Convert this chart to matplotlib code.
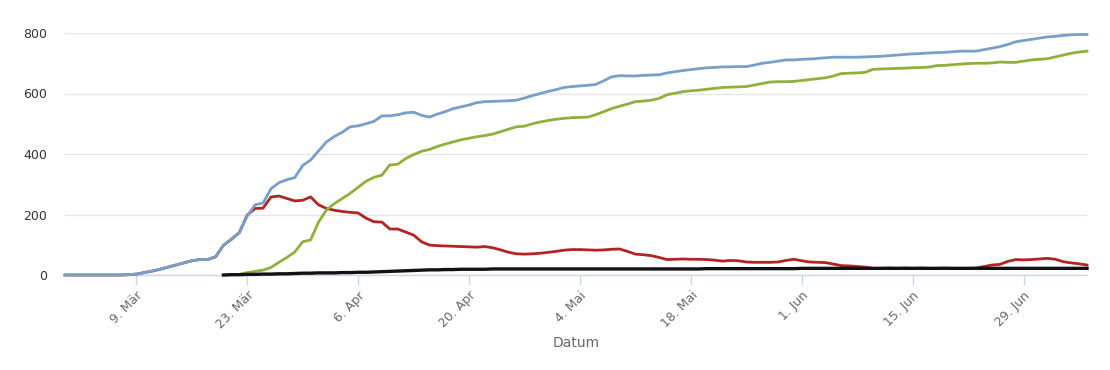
import numpy as np
import pandas as pd
import matplotlib
matplotlib.use('Agg')
import matplotlib.pyplot as plt

# Tageswerte ab 29. Feb 2020
dates = pd.date_range('2020-02-29', periods=130, freq='D')

# Infizierte gesamt (blau)
total = [0, 0, 0, 0, 0, 0, 0, 0, 1, 3,
         8, 13, 19, 26, 33, 40, 47, 51, 51, 60,
         98, 118, 140, 195, 232, 238, 285, 305, 315, 322,
         362, 380, 410, 440, 458, 472, 490, 493, 500, 508,
         526, 526, 530, 536, 538, 528, 522, 532, 540, 550,
         556, 562, 570, 573, 574, 575, 576, 578, 585, 593,
         600, 607, 613, 620, 623, 625, 627, 630, 642, 655,
         659, 658, 658, 660, 661, 662, 668, 672, 676, 679,
         682, 685, 686, 688, 688, 689, 689, 694, 700, 703,
         707, 711, 711, 713, 714, 716, 718, 720, 720, 720,
         720, 721, 722, 723, 725, 727, 729, 731, 732, 734,
         735, 736, 738, 740, 740, 740, 745, 750, 755, 762,
         771, 775, 779, 783, 787, 789, 792, 794, 795, 795]

# Genesene (grün), erst ab 22. Tag
recovered = [None] * 22 + [
    2, 8, 12, 16, 25, 42, 58, 76,
    110, 116, 175, 215, 236, 253, 270, 290, 310, 323,
    330, 364, 366, 385, 398, 409, 415, 425, 433, 440,
    447, 452, 457, 461, 466, 474, 482, 490, 492, 500,
    506, 511, 515, 518, 520, 521, 522, 530, 540, 550,
    558, 565, 573, 575, 578, 584, 596, 601, 606, 609,
    611, 614, 617, 620, 621, 622, 623, 628, 633, 638,
    639, 639, 640, 643, 646, 649, 652, 658, 666, 667,
    668, 670, 680, 681, 682, 683, 684, 685, 686, 687,
    692, 693, 695, 697, 699, 700, 700, 701, 704, 703,
    703, 707, 711, 713, 715, 721, 727, 733, 737, 740]

# Aktuell Erkrankte (rot)
active = [0, 0, 0, 0, 0, 0, 0, 0, 1, 3,
          8, 13, 19, 26, 33, 40, 47, 51, 51, 60,
          98, 118, 140, 198, 220, 221, 258, 261, 253, 245,
          247, 258, 232, 220, 214, 210, 207, 205, 188, 176,
          175, 152, 152, 142, 132, 110, 99, 97, 96, 95,
          94, 93, 92, 94, 90, 83, 75, 70, 69, 70,
          72, 75, 78, 82, 84, 84, 83, 82, 83, 85,
          86, 78, 69, 67, 64, 58, 51, 52, 53, 52,
          52, 51, 49, 46, 48, 47, 43, 42, 42, 42,
          43, 48, 52, 47, 43, 42, 41, 36, 31, 30,
          28, 26, 22, 22, 23, 22, 23, 22, 23, 22,
          22, 23, 22, 22, 22, 23, 28, 33, 35, 45,
          51, 50, 51, 53, 55, 52, 44, 40, 37, 33]

# Verstorbene (schwarz), ab 20. Tag
deaths = [None] * 20 + [
    0, 1, 1, 2, 2, 3, 3, 4, 4, 5,
    6, 6, 7, 7, 7, 8, 8, 9, 9, 10,
    11, 12, 13, 14, 15, 16, 17, 17, 18, 18,
    19, 19, 19, 19, 20, 20, 20, 20, 20, 20,
    20, 20, 20, 20, 20, 20, 20, 20, 20, 20,
    20, 20, 20, 20, 20, 20, 20, 20, 20, 20,
    20, 21, 21, 21, 21, 21, 21, 21, 21, 21,
    21, 21, 21, 22, 22, 22, 22, 22, 22, 22,
    22, 22, 22, 22, 22, 22, 22, 22, 22, 22,
    22, 22, 22, 22, 22, 22, 22, 22, 22, 22,
    22, 22, 22, 22, 22, 22, 22, 22, 22, 22]

tick_dates = pd.to_datetime(['2020-03-09', '2020-03-23', '2020-04-06', '2020-04-20',
                             '2020-05-04', '2020-05-18', '2020-06-01', '2020-06-15',
                             '2020-06-29'])
tick_labels = ['9. Mär', '23. Mär', '6. Apr', '20. Apr', '4. Mai', '18. Mai',
               '1. Jun', '15. Jun', '29. Jun']


def to_arr(lst):
    return np.array([np.nan if v is None else v for v in lst], dtype=float)


fig = plt.figure(figsize=(11.1, 3.7), dpi=100)
ax = fig.add_axes([65 / 1110, 1 - 275 / 370, (1087 - 65) / 1110, (275 - 33) / 370])

ax.plot(dates, to_arr(active), color='#b3231f', linewidth=2, clip_on=False, zorder=3)
ax.plot(dates, to_arr(total), color='#769fca', linewidth=2, clip_on=False, zorder=4)
ax.plot(dates, to_arr(recovered), color='#8fb03a', linewidth=2, clip_on=False, zorder=4)
ax.plot(dates, to_arr(deaths), color='#111111', linewidth=2.4, clip_on=False, zorder=5)

ax.set_xlim(dates[0], dates[-1])
ax.set_ylim(0, 800)
ax.set_yticks([0, 200, 400, 600, 800])
ax.yaxis.grid(True, color='#e6e6e6', linewidth=1)
ax.set_axisbelow(True)

for s in ['top', 'right', 'left']:
    ax.spines[s].set_visible(False)
ax.spines['bottom'].set_color('#ccd6eb')
ax.spines['bottom'].set_linewidth(1)

ax.set_xticks(tick_dates)
ax.set_xticklabels(tick_labels, rotation=45, ha='right', rotation_mode='anchor',
                   fontsize=9, color='#666666')
ax.tick_params(axis='x', length=7, width=1, color='#ccd6eb', pad=3)
ax.tick_params(axis='y', length=0, pad=13, labelsize=9, labelcolor='#333333')

ax.set_xlabel('Datum', fontsize=10, color='#666666', labelpad=3)

fig.savefig('out.png', dpi=100, facecolor='white')
